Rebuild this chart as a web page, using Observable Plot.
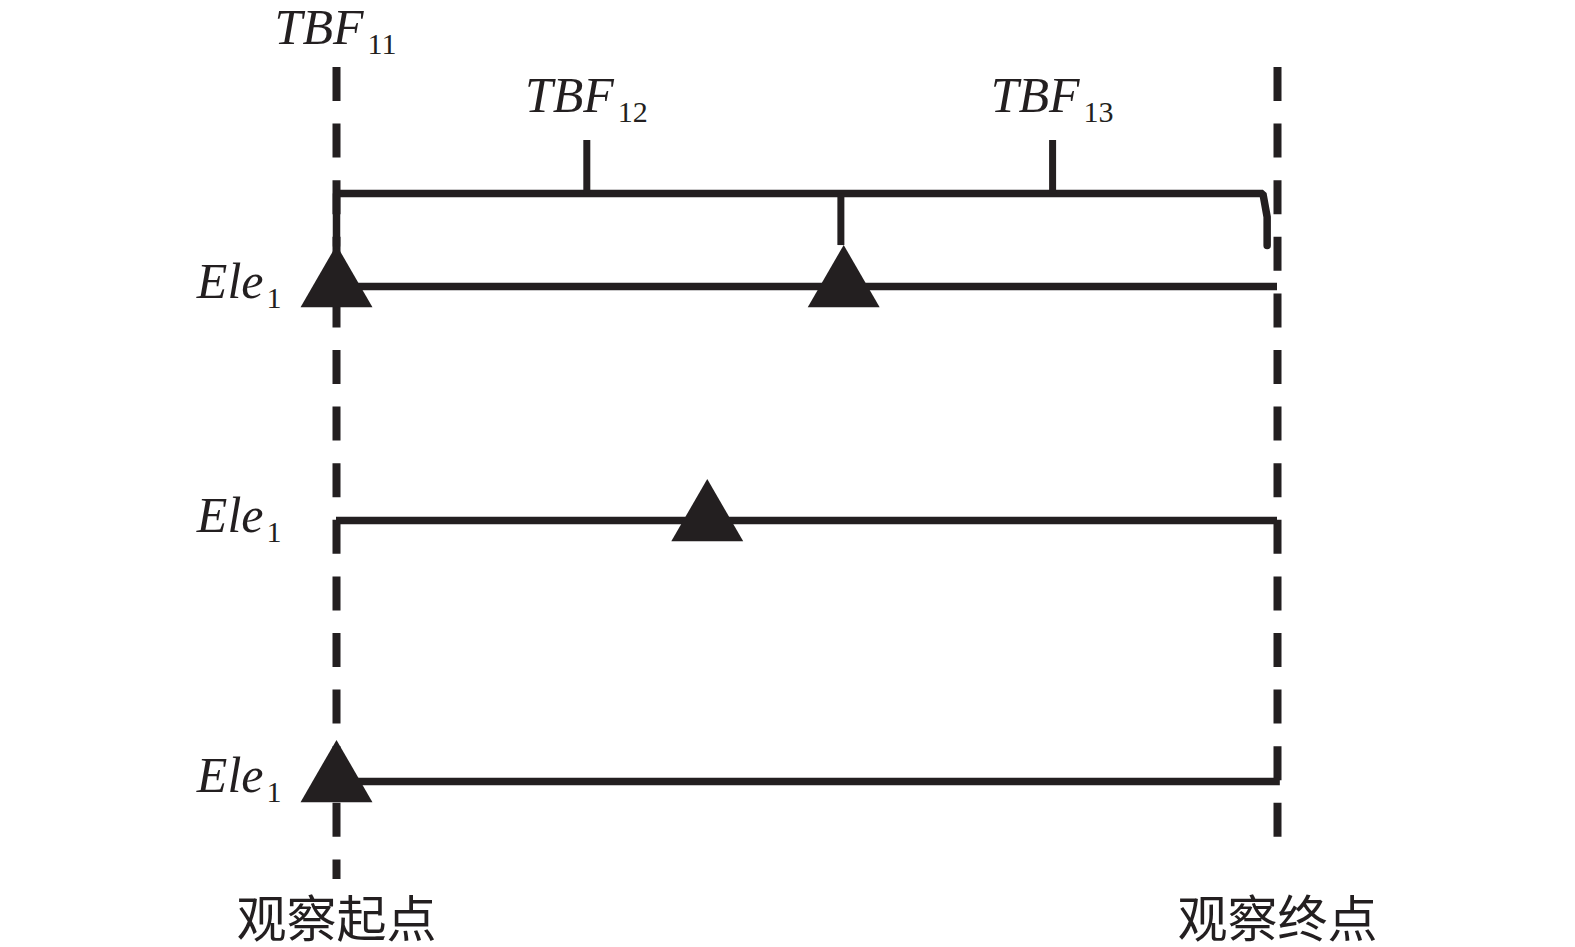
<!DOCTYPE html>
<html>
<head>
<meta charset="utf-8">
<script src="https://cdn.jsdelivr.net/npm/d3@7"></script>
<script src="https://cdn.jsdelivr.net/npm/@observablehq/plot@0.6"></script>
<style>
  body { margin: 0; background: white; }
  #chart svg { display: block; }
</style>
</head>
<body>
<div id="chart"></div>
<script>
// observation window, time in % of window, levels in track units (track 1 = first Ele line)
const windowTime = [0, 100];
const windowTop = 0.064;
const windowBottom = [3.534, 3.355];
const windowLabels = ["观察起点", "观察终点"];
const windowLabelLevel = 3.71;

// element tracks
const trackLevel = [1, 2, 3.115];
const trackEnd = [100, 100, 100.3];
const trackName = ["Ele", "Ele", "Ele"];
const trackSub = ["1", "1", "1"];

// failures (triangles)
const failTime = [0, 53.9, 39.4, 0];
const failLevel = [1, 1, 2, 3.115];

// TBF brace above track 1
const braceLevel = 0.603;
const braceDrop = 0.825;
const braceJoin = [0, 53.6, 98.9];
const tbfTime = [0, 26.6, 76.1];
const tbfSub = ["11", "12", "13"];
const tbfLevel = [-0.038, 0.256, 0.256];
const tickTop = 0.376;

const ink = "#231f20";
const serif = "'Liberation Serif', 'Times New Roman', serif";

const tracks = trackLevel.map((y, i) => ({y, x2: trackEnd[i], name: trackName[i], sub: trackSub[i]}));
const fails = failTime.map((x, i) => ({x, y: failLevel[i]}));
const tbf = tbfTime.map((x, i) => ({x, y: tbfLevel[i], sub: tbfSub[i]}));
const windows = windowTime.map((x, i) => ({x, y2: windowBottom[i], label: windowLabels[i]}));
const braceLine = [
  {x: braceJoin[0], y: braceDrop},
  {x: braceJoin[0], y: braceLevel},
  {x: braceJoin[2] - 0.45, y: braceLevel},
  {x: braceJoin[2], y: braceLevel + 0.1},
  {x: braceJoin[2], y: braceDrop}
];

let chart = Plot.plot({
  width: 1575,
  height: 947,
  margin: 0,
  x: {domain: [0, 100], range: [336, 1277], axis: null},
  y: {domain: [1, 2], range: [286, 520], axis: null},
  marks: [
    // observation window boundaries
    Plot.ruleX(windows, {x: "x", y1: windowTop, y2: "y2", stroke: ink, strokeWidth: 8, strokeDasharray: "34,22.6"}),
    // tracks
    Plot.ruleY(tracks, {y: "y", x1: 0, x2: "x2", stroke: ink, strokeWidth: 7.5}),
    // brace
    Plot.line(braceLine, {x: "x", y: "y", stroke: ink, strokeWidth: 7.5, strokeLinejoin: "miter"}),
    Plot.ruleX([braceJoin[1]], {x: (d) => d, y1: braceLevel, y2: braceDrop, stroke: ink, strokeWidth: 7}),
    Plot.ruleX(tbfTime.slice(1), {x: (d) => d, y1: tickTop, y2: braceLevel, stroke: ink, strokeWidth: 7}),
    // failures
    Plot.dot(fails, {x: "x", y: "y", symbol: "triangle", r: 26.7, fill: ink, stroke: null}),
    // labels
    Plot.text(tbf, {x: "x", y: "y", text: () => "TBF", textAnchor: "end", lineAnchor: "bottom", dx: 27, fontSize: 50, fontStyle: "italic", fontFamily: serif, fill: ink}),
    Plot.text(tbf, {x: "x", y: "y", text: "sub", textAnchor: "start", lineAnchor: "bottom", dx: 31, dy: 10, fontSize: 30, fontFamily: serif, fill: ink}),
    Plot.text(tracks, {x: 0, y: "y", text: "name", textAnchor: "end", lineAnchor: "bottom", dx: -73, dy: 11, fontSize: 50, fontStyle: "italic", fontFamily: serif, fill: ink}),
    Plot.text(tracks, {x: 0, y: "y", text: "sub", textAnchor: "start", lineAnchor: "bottom", dx: -70, dy: 21, fontSize: 30, fontFamily: serif, fill: ink}),
    Plot.text(windows, {x: "x", y: windowLabelLevel, text: "label", fontSize: 50, fontFamily: "'Noto Sans CJK SC', sans-serif", fill: ink})
  ]
});

d3.select("#chart").append(() => chart);
</script>
</body>
</html>
